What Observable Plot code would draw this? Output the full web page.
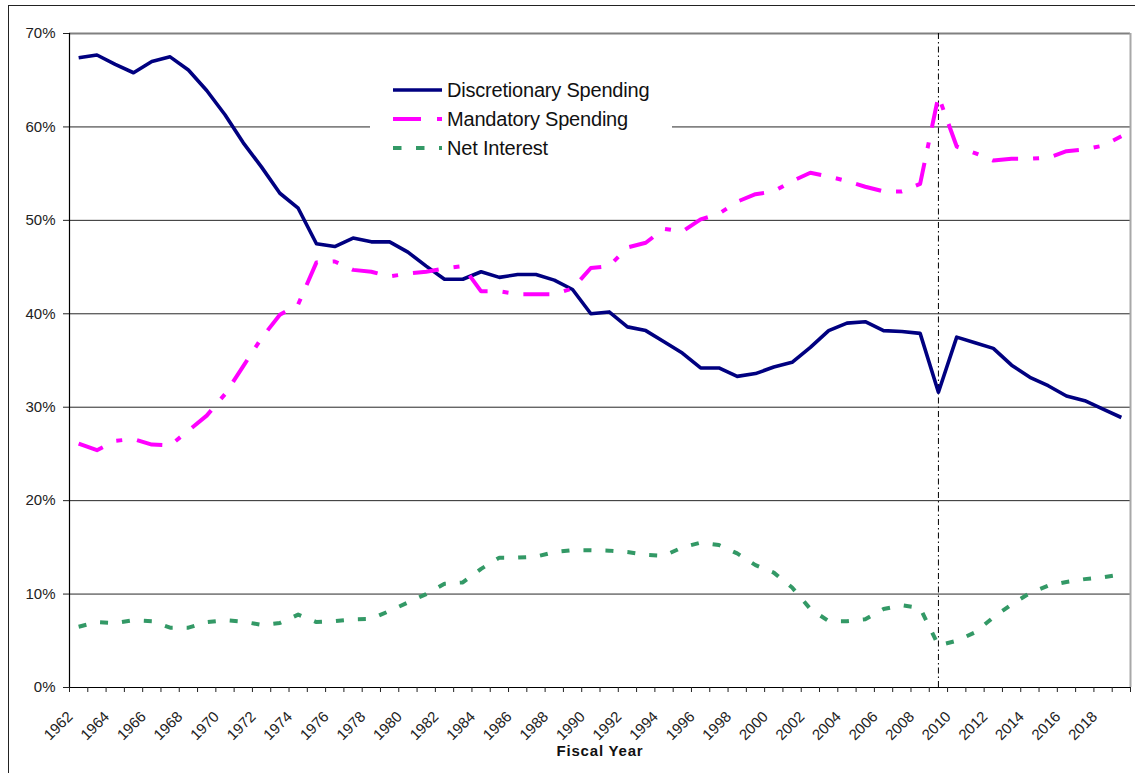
<!DOCTYPE html>
<html>
<head>
<meta charset="utf-8">
<script src="https://cdn.jsdelivr.net/npm/d3@7"></script>
<script src="https://cdn.jsdelivr.net/npm/@observablehq/plot@0.6"></script>
<style>
  html, body { margin: 0; padding: 0; background: #fff; overflow: hidden; }
  #wrap { position: relative; width: 1135px; height: 773px; }
  #frame { position: absolute; left: 8px; top: 5px; width: 2000px; height: 2000px;
           border-left: 1.5px solid #222; border-top: 1.5px solid #222; pointer-events: none; }
  #legend { position: absolute; left: 370px; top: 70px; width: 302px; height: 96px; background: #fff;
            font-family: "Liberation Sans", Arial, sans-serif; font-size: 20px; letter-spacing: -0.2px; color: #111; }
  .row { position: absolute; left: 23px; height: 24px; display: flex; align-items: center; white-space: nowrap; }
  .row svg { margin-right: 5px; }
</style>
</head>
<body>
<div id="wrap">
  <div id="chart"></div>
  <div id="frame"></div>
  <div id="legend"></div>
</div>
<script>
const years = d3.range(1962, 2020);
const discretionary = [67.4, 67.7, 66.7, 65.8, 67.0, 67.5, 66.1, 63.9, 61.3, 58.3,
  55.7, 52.9, 51.3, 47.5, 47.2, 48.1, 47.7, 47.7, 46.6, 45.1,
  43.7, 43.7, 44.5, 43.9, 44.2, 44.2, 43.6, 42.6, 40.0, 40.2,
  38.6, 38.2, 37.0, 35.8, 34.2, 34.2, 33.3, 33.6, 34.3, 34.8,
  36.4, 38.2, 39.0, 39.15, 38.2, 38.1, 37.9, 31.6, 37.5, 36.9,
  36.3, 34.5, 33.2, 32.3, 31.2, 30.7, 29.8, 28.9];
const mandatory = [26.1, 25.4, 26.4, 26.6, 26.0, 25.9, 27.5, 29.1, 31.4, 34.4,
  37.4, 39.9, 41.0, 45.5, 45.6, 44.7, 44.5, 44.0, 44.3, 44.5,
  44.85, 45.1, 42.4, 42.4, 42.1, 42.1, 42.1, 42.7, 44.9, 45.1,
  47.1, 47.6, 49.1, 48.8, 50.1, 50.7, 52.0, 52.8, 53.1, 54.2,
  55.1, 54.7, 54.2, 53.6, 53.1, 53.1, 53.9, 63.3, 57.9, 57.2,
  56.4, 56.6, 56.6, 56.7, 57.4, 57.6, 58.0, 59.0];
const netInterest = [6.5, 7.0, 6.9, 7.2, 7.1, 6.4, 6.4, 7.0, 7.2, 7.05,
  6.7, 6.9, 7.8, 7.0, 7.1, 7.3, 7.35, 8.2, 9.1, 10.0,
  11.1, 11.25, 12.7, 13.9, 13.9, 14.0, 14.5, 14.7, 14.7, 14.65,
  14.5, 14.2, 14.1, 15.0, 15.5, 15.25, 14.35, 13.1, 12.3, 10.7,
  8.4, 7.1, 7.1, 7.3, 8.4, 8.8, 8.5, 4.5, 5.0, 5.9,
  7.5, 8.9, 10.1, 10.9, 11.3, 11.6, 11.8, 12.1];
const seriesNames = ["Discretionary Spending", "Mandatory Spending", "Net Interest"];
const seriesColors = ["#000080", "#FF00FF", "#339966"];
const seriesDash = [null, "26,15,6,15", "8,14"];
const seriesWidth = [3.6, 4, 4];
const yTicks = [0, 10, 20, 30, 40, 50, 60, 70];
const xLabelYears = d3.range(1962, 2019, 2);
const xBoundaries = d3.range(1961.5, 2020, 1);
const markerYear = [2009];
const xTitle = "Fiscal Year";

const allSeries = [discretionary, mandatory, netInterest];
const rows = allSeries.map(vals => years.map((yr, i) => ({year: yr, value: vals[i]})));

const font = "'Liberation Sans', Arial, sans-serif";
const chart = Plot.plot({
  width: 1135, height: 773,
  marginLeft: 69, marginRight: 5, marginTop: 33, marginBottom: 86,
  x: {domain: [1961.5, 2019.5], axis: null},
  y: {domain: [0, 70], axis: null},
  style: {fontFamily: font, fontSize: "15px", color: "#222", background: "transparent", overflow: "visible"},
  marks: [
    Plot.ruleY(yTicks.filter(d => d > 0 && d < 70), {stroke: "#000", strokeWidth: 1, strokeOpacity: 0.85}),
    Plot.ruleY([70], {stroke: "#808080", strokeWidth: 2}),
    Plot.ruleX([2019.5], {stroke: "#a8a8a8", strokeWidth: 2}),
    Plot.ruleX(markerYear, {stroke: "#000", strokeWidth: 1, strokeDasharray: "6,3,1.5,3"}),
    ...rows.map((r, i) => Plot.line(r, {
      x: "year", y: "value", stroke: seriesColors[i], strokeWidth: seriesWidth[i],
      strokeDasharray: seriesDash[i], strokeLinecap: "butt", strokeLinejoin: "round"
    })),
    Plot.ruleY([0], {stroke: "#000", strokeWidth: 1.2}),
    Plot.ruleX([1961.5], {stroke: "#000", strokeWidth: 1.2}),
    Plot.axisY(yTicks, {tickSize: 6, tickFormat: () => "", label: null}),
    Plot.text(yTicks, {y: d => d, frameAnchor: "left", textAnchor: "end", dx: -14, fontSize: 15, fill: "#222", text: d => d + "%"}),
    Plot.axisX(xBoundaries, {tickSize: 5, tickFormat: () => "", label: null}),
    Plot.text(xLabelYears, {x: d => d, frameAnchor: "bottom", textAnchor: "end", rotate: -45, dx: -5, dy: 30, fontSize: 15, fill: "#222", text: d => String(d)}),
    Plot.text([xTitle], {frameAnchor: "bottom", dy: 68, fontWeight: "bold", fontSize: 15, fill: "#111"})
  ]
});
document.getElementById("chart").appendChild(chart);
d3.select(chart).selectAll("text").filter(function() { return this.textContent === xTitle; })
  .attr("letter-spacing", "0.8px");

const legend = document.getElementById("legend");
const rowY = [20, 49, 78];
seriesNames.forEach((name, i) => {
  const row = document.createElement("div");
  row.className = "row";
  row.style.top = (rowY[i] - 12) + "px";
  const ns = "http://www.w3.org/2000/svg";
  const svg = document.createElementNS(ns, "svg");
  svg.setAttribute("width", 49); svg.setAttribute("height", 24);
  const ln = document.createElementNS(ns, "line");
  ln.setAttribute("x1", 0); ln.setAttribute("x2", 49);
  ln.setAttribute("y1", 12); ln.setAttribute("y2", 12);
  ln.setAttribute("stroke", seriesColors[i]);
  ln.setAttribute("stroke-width", seriesWidth[i]);
  if (i === 1) ln.setAttribute("stroke-dasharray", "28,16,5,100");
  if (i === 2) ln.setAttribute("stroke-dasharray", "8.5,14.5");
  svg.appendChild(ln);
  row.appendChild(svg);
  const t = document.createElement("span");
  t.textContent = name;
  row.appendChild(t);
  legend.appendChild(row);
});
</script>
</body>
</html>
